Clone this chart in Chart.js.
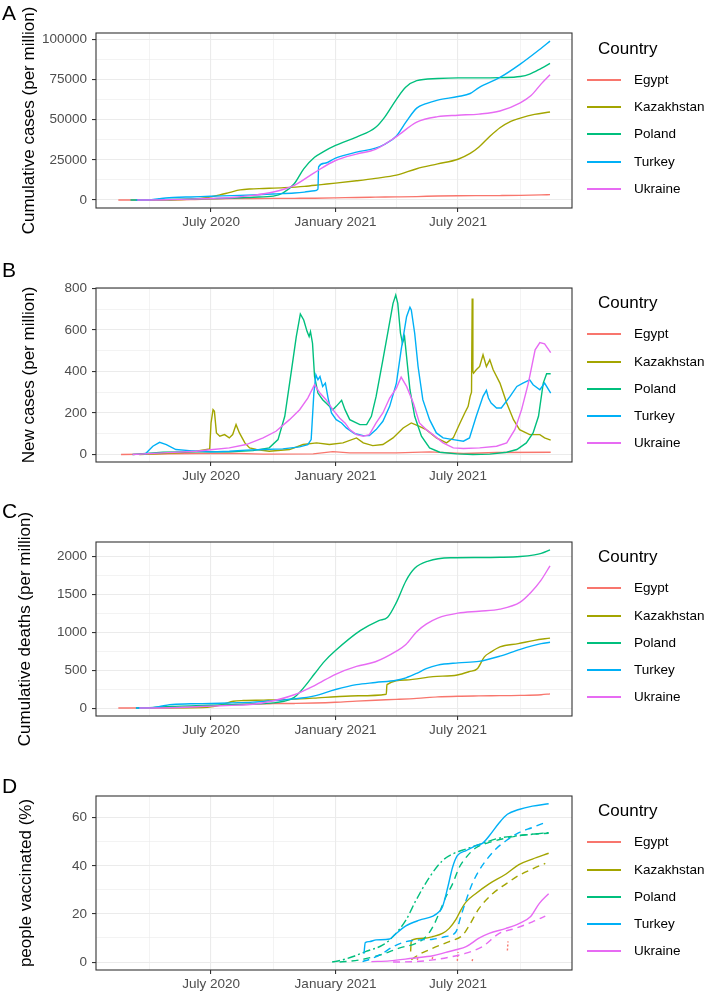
<!DOCTYPE html>
<html>
<head>
<meta charset="utf-8">
<script src="https://cdn.jsdelivr.net/npm/chart.js@4.4.1/dist/chart.umd.min.js"></script>
<style>
  html, body { margin: 0; padding: 0; background: #fff; overflow: hidden; }
  body { width: 708px; height: 993px; position: relative; font-family: "Liberation Sans", Arial, Helvetica, sans-serif; }
  .wrap { position: absolute; left: 0; width: 708px; }
  .tag { position: absolute; left: 2px; font-size: 21px; line-height: 21px; color: #000; }
  .leg-title { position: absolute; left: 598px; font-size: 17px; line-height: 20px; color: #000; }
  .leg-key { position: absolute; left: 587px; width: 34px; height: 2px; }
  .leg-text { position: absolute; left: 634px; font-size: 13.5px; line-height: 16px; color: #000; white-space: nowrap; }
</style>
</head>
<body>
<div class="wrap" id="wrapA"><canvas id="panelA"></canvas></div>
<div class="wrap" id="wrapB"><canvas id="panelB"></canvas></div>
<div class="wrap" id="wrapC"><canvas id="panelC"></canvas></div>
<div class="wrap" id="wrapD"><canvas id="panelD"></canvas></div>
<div class="tag" style="top:2px">A</div>
<div class="tag" style="top:259px">B</div>
<div class="tag" style="top:500px">C</div>
<div class="tag" style="top:775px">D</div>
<div id="legends"></div>

<script>
const countries = ["Egypt", "Kazakhstan", "Poland", "Turkey", "Ukraine"];

// x values are days counted from 1 January 2020
const xTickDays = [182, 366, 547];
const xTickLabels = ["July 2020", "January 2021", "July 2021"];
const xMinorDays = [91, 274, 456.5, 639];

const yTicksCases = [0, 25000, 50000, 75000, 100000];
const yTicksNew = [0, 200, 400, 600, 800];
const yTicksDeaths = [0, 500, 1000, 1500, 2000];
const yTicksVax = [0, 20, 40, 60];

// A: cumulative cases per million
const casesEgypt = [[45,0],[91,7],[121,55],[152,240],[182,660],[213,920],[244,970],[274,1010],[305,1060],[335,1130],[366,1350],[397,1630],[425,1790],[456,1950],[486,2150],[517,2500],[547,2660],[578,2730],[609,2780],[639,2900],[670,3200],[683,3400]];
const casesKazakhstan = [[72,0],[120,150],[152,600],[175,1400],[182,2000],[195,3200],[210,4800],[225,6300],[240,6900],[260,7200],[290,7700],[320,8500],[345,9600],[366,10500],[397,12000],[425,13500],[456,15500],[486,19500],[517,22500],[547,25400],[565,29000],[578,33000],[595,40000],[609,45000],[625,49000],[639,51000],[660,53300],[683,54800]];
const casesPoland = [[63,0],[91,65],[121,340],[152,630],[182,890],[213,1200],[244,1770],[274,2460],[288,4300],[305,10100],[319,19400],[335,26600],[349,30300],[366,34000],[397,39200],[425,45100],[439,51800],[456,62700],[470,70300],[486,74300],[517,75600],[547,76000],[578,76000],[609,76200],[639,76900],[653,78400],[670,82000],[683,85000]];
const casesTurkey = [[71,0],[90,160],[105,830],[120,1430],[135,1740],[152,1940],[182,2390],[213,2730],[244,3180],[274,3790],[305,4420],[320,4950],[335,5740],[340,6800],[341,20700],[350,22900],[366,26100],[397,29800],[425,32300],[440,35000],[456,39900],[470,48500],[486,57200],[500,60000],[517,62200],[547,64400],[565,66300],[578,70000],[609,76300],[639,84600],[670,94500],[683,98900]];
const casesUkraine = [[73,0],[91,19],[121,240],[152,560],[182,1050],[213,1620],[244,2880],[274,4980],[305,9200],[335,17100],[366,24600],[397,28600],[425,31500],[456,39500],[486,48500],[517,51900],[547,52800],[578,53500],[609,55400],[639,60500],[655,65000],[670,72300],[683,78000]];

// B: new cases per million
const newEgypt = [[49,0],[120,3],[160,5],[209,6],[259,2],[333,3],[362,14],[387,8],[456,8],[505,13],[555,5],[604,10],[684,11]];
const newKazakhstan = [[76,0],[135,8],[160,16],[180,27],[182,152],[185,216],[187,208],[190,104],[195,88],[202,96],[209,80],[214,96],[219,144],[224,104],[232,56],[239,32],[249,24],[268,16],[298,24],[318,48],[338,56],[357,48],[377,56],[397,80],[407,56],[421,43],[436,48],[451,80],[466,128],[478,152],[490,136],[500,120],[515,80],[530,56],[540,80],[550,152],[557,200],[562,232],[565,280],[567,300],[568,752],[569,400],[570,392],[574,408],[579,424],[584,480],[589,424],[594,456],[599,408],[609,344],[619,248],[629,168],[638,120],[653,96],[668,96],[675,80],[684,69]];
const newPoland = [[66,0],[111,11],[160,14],[209,13],[244,19],[268,32],[281,72],[291,184],[301,408],[308,568],[314,677],[319,648],[324,592],[327,568],[329,592],[332,536],[335,376],[340,296],[347,264],[357,232],[362,216],[367,232],[372,250],[375,261],[380,216],[387,168],[402,144],[412,144],[419,184],[426,280],[436,456],[444,600],[451,728],[455,768],[458,728],[462,584],[465,536],[468,568],[471,472],[476,312],[483,184],[493,88],[505,32],[520,11],[545,3],[569,0],[594,2],[619,11],[634,24],[648,56],[658,104],[666,184],[673,344],[678,389],[684,389]];
const newTurkey = [[84,0],[96,40],[106,59],[116,48],[130,24],[150,19],[182,13],[209,16],[234,21],[259,24],[288,27],[313,37],[325,48],[330,72],[334,296],[337,384],[340,360],[343,376],[347,328],[351,344],[355,272],[360,200],[367,168],[375,152],[382,128],[394,101],[407,91],[416,91],[426,120],[436,160],[446,232],[456,344],[463,504],[471,664],[476,709],[478,696],[483,584],[488,424],[495,264],[505,168],[515,104],[525,80],[540,72],[555,64],[564,80],[574,184],[584,280],[589,309],[592,272],[596,248],[604,224],[611,224],[624,280],[634,328],[643,344],[653,360],[658,336],[668,312],[675,344],[684,296]];
const newUkraine = [[66,0],[111,8],[160,16],[185,24],[209,32],[234,48],[259,80],[278,112],[298,168],[313,216],[325,272],[335,336],[343,296],[352,264],[362,216],[372,176],[380,152],[387,120],[397,96],[407,88],[416,96],[426,152],[436,200],[446,272],[456,320],[463,373],[471,328],[481,248],[490,152],[500,120],[510,96],[525,56],[540,32],[555,29],[579,32],[604,40],[619,56],[631,120],[641,216],[651,344],[661,504],[668,539],[675,533],[684,491]];

// C: cumulative deaths per million
const deathsEgypt = [[45,0],[91,2],[121,5],[152,10],[182,29],[213,46],[244,54],[274,58],[305,61],[335,66],[366,76],[397,92],[425,104],[456,115],[486,128],[517,148],[547,157],[578,161],[609,164],[639,167],[670,176],[683,188]];
const deathsKazakhstan = [[77,0],[150,2],[182,15],[200,50],[215,90],[230,100],[260,105],[300,115],[340,135],[366,150],[400,162],[441,182],[442,310],[470,371],[510,415],[546,437],[563,480],[576,524],[586,677],[596,742],[609,808],[636,852],[660,895],[683,925]];
const deathsPoland = [[71,0],[91,5],[121,22],[152,28],[182,38],[213,45],[244,54],[274,68],[290,90],[305,141],[320,280],[335,453],[350,620],[366,760],[403,1026],[430,1157],[443,1200],[456,1397],[470,1680],[483,1847],[503,1943],[536,1987],[578,1990],[609,1993],[639,2003],[660,2025],[670,2045],[683,2090]];
const deathsTurkey = [[71,0],[91,2],[105,18],[121,45],[152,56],[182,61],[213,69],[244,78],[274,98],[305,121],[335,161],[366,245],[397,309],[425,338],[456,368],[470,400],[486,459],[500,520],[517,567],[547,597],[578,617],[609,686],[639,776],[670,851],[683,870]];
const deathsUkraine = [[76,0],[121,5],[152,14],[182,26],[213,36],[244,50],[274,96],[305,176],[335,298],[366,446],[397,550],[425,612],[456,752],[470,840],[486,1010],[500,1110],[517,1190],[547,1255],[578,1280],[609,1307],[639,1400],[655,1530],[669,1680],[683,1880]];

// D: people vaccinated (%) - at least one dose, and fully vaccinated
const vaxEgypt = [[487,0.8],[488,2.6],[489,null],[509,1.2],[510,2.6],[511,null],[546,0.5],[547,4.2],[548,null],[568,0.4],[569,1.8],[570,null],[620,4.8],[621,8.6]];
const vaxKazakhstan = [[477,4.4],[478,9],[497,9.9],[510,10.6],[524,11.9],[534,14],[544,17.7],[551,21.5],[559,25],[573,28.4],[593,32.5],[618,36.6],[637,40.5],[657,42.8],[681,45.2]];
const fullKazakhstan = [[478,1],[490,3.2],[510,5.8],[534,8.5],[554,11.2],[564,15.4],[578,22.2],[598,28.4],[618,32.5],[637,36],[657,38.7],[676,41]];
const vaxPoland = [[361,0],[375,0.8],[392,2.3],[411,4.4],[436,7.1],[451,10.6],[470,17.4],[485,25.7],[505,35.3],[524,42.1],[539,44.9],[559,47],[583,49.3],[608,51.5],[632,52.4],[657,53.1],[681,53.8]];
const fullPoland = [[372,0],[402,0.9],[436,3.3],[460,5.8],[485,7.8],[500,10.6],[510,14.7],[519,20.2],[529,27],[539,32.5],[549,39.4],[559,43.5],[573,47.4],[593,49.7],[618,51.5],[647,52.9],[681,53.5]];
const vaxTurkey = [[408,3.5],[410,8.1],[416,8.5],[426,9.2],[446,9.6],[453,11.2],[470,15],[490,17.4],[510,19.1],[519,20.9],[524,22.9],[532,31.2],[539,39.4],[546,44.2],[559,46.3],[573,48.3],[583,49.3],[593,52.4],[608,57.9],[620,61.4],[637,63.4],[657,64.8],[681,65.8]];
const fullTurkey = [[406,0.2],[421,1.6],[436,3.7],[451,6.4],[470,8.5],[490,9.2],[510,9.5],[529,10.6],[544,12.6],[551,18.8],[559,25.7],[568,32.5],[578,38],[588,42.1],[603,47],[618,50.4],[637,53.8],[657,55.9],[676,58]];
const vaxUkraine = [[419,0.2],[446,0.5],[480,1.6],[510,2.6],[529,4],[544,5.1],[559,6.4],[578,9.9],[593,11.9],[618,14],[637,16],[654,18.8],[667,24.3],[681,28.4]];
const fullUkraine = [[451,0],[485,0.2],[510,0.9],[539,2.3],[559,3.7],[583,6.4],[608,11.9],[632,14],[657,16.7],[676,19.1]];

const colors = ["#F8766D", "#A3A500", "#00BF7D", "#00B0F6", "#E76BF3"];
Chart.defaults.font.family = '"Liberation Sans", Arial, Helvetica, sans-serif';

const toPoints = (pairs) => pairs.map(([x, y]) => ({ x: x, y: y }));

const line = (label, pairs, i, extra) => Object.assign({
  label: label,
  data: toPoints(pairs),
  borderColor: colors[i],
  backgroundColor: colors[i],
  borderWidth: 1.4,
  pointRadius: 0,
  fill: false,
  order: countries.length - i,
}, extra || {});

const smooth = { cubicInterpolationMode: "monotone" };
const dashed = [7, 5];

const panels = [
  {
    id: "A", yTitle: "Cumulative cases (per million)", yTicks: yTicksCases, yMin: -4950, yMax: 103950,
    datasets: [casesEgypt, casesKazakhstan, casesPoland, casesTurkey, casesUkraine].map((s, i) => line(countries[i], s, i, smooth)),
  },
  {
    id: "B", yTitle: "New cases (per million)", yTicks: yTicksNew, yMin: -36, yMax: 802,
    datasets: [newEgypt, newKazakhstan, newPoland, newTurkey, newUkraine].map((s, i) => line(countries[i], s, i)),
  },
  {
    id: "C", yTitle: "Cumulative deaths (per million)", yTicks: yTicksDeaths, yMin: -105, yMax: 2195,
    datasets: [deathsEgypt, deathsKazakhstan, deathsPoland, deathsTurkey, deathsUkraine].map((s, i) => line(countries[i], s, i, smooth)),
  },
  {
    id: "D", yTitle: "people vaccinated (%)", yTicks: yTicksVax, yMin: -3.3, yMax: 69,
    datasets: [
      line("Egypt", vaxEgypt, 0, { borderDash: [2, 2] }),
      line("Kazakhstan", vaxKazakhstan, 1, smooth),
      line("Kazakhstan fully", fullKazakhstan, 1, Object.assign({ borderDash: dashed }, smooth)),
      line("Poland", vaxPoland, 2, Object.assign({ borderDash: [8, 3, 2, 3] }, smooth)),
      line("Poland fully", fullPoland, 2, Object.assign({ borderDash: dashed }, smooth)),
      line("Turkey", vaxTurkey, 3, smooth),
      line("Turkey fully", fullTurkey, 3, Object.assign({ borderDash: dashed }, smooth)),
      line("Ukraine", vaxUkraine, 4, smooth),
      line("Ukraine fully", fullUkraine, 4, Object.assign({ borderDash: dashed }, smooth)),
    ],
  },
];

// where each panel sits on the page
const boxes = {
  A: { top: 0, padTop: 33, plotH: 175, titleMid: 29 },
  B: { top: 240, padTop: 48, plotH: 174, titleMid: 29 },
  C: { top: 490, padTop: 52, plotH: 174, titleMid: 25.5 },
  D: { top: 750, padTop: 46, plotH: 174, titleMid: 26.5 },
};

const panelBorder = {
  id: "panelBorder",
  afterDatasetsDraw(chart) {
    const { ctx, chartArea: a } = chart;
    ctx.save();
    ctx.strokeStyle = "#333333";
    ctx.lineWidth = 1.1;
    ctx.strokeRect(a.left, a.top, a.right - a.left, a.bottom - a.top);
    ctx.restore();
  },
};

const xGrid = [...xTickDays, ...xMinorDays].sort((a, b) => a - b);

panels.forEach((p) => {
  const box = boxes[p.id];
  const wrap = document.getElementById("wrap" + p.id);
  const canvas = document.getElementById("panel" + p.id);
  const h = box.padTop + box.plotH + 32;
  wrap.style.top = box.top + "px";
  canvas.width = 708;
  canvas.height = h;
  canvas.style.width = "708px";
  canvas.style.height = h + "px";

  const yMinor = [];
  for (let i = 0; i < p.yTicks.length - 1; i++) yMinor.push((p.yTicks[i] + p.yTicks[i + 1]) / 2);
  const yGrid = [...p.yTicks, ...yMinor].filter((v) => v >= p.yMin && v <= p.yMax).sort((a, b) => a - b);
  const majorX = (c) => c.tick && xTickDays.includes(c.tick.value);
  const majorY = (c) => c.tick && p.yTicks.includes(c.tick.value);

  new Chart(canvas, {
    type: "line",
    data: { datasets: p.datasets },
    plugins: [panelBorder],
    options: {
      responsive: false,
      animation: false,
      devicePixelRatio: 1,
      layout: { padding: { left: 0, right: 136, top: box.padTop, bottom: 2 } },
      plugins: { legend: { display: false }, tooltip: { enabled: false } },
      scales: {
        x: {
          type: "linear",
          min: 12,
          max: 715.5,
          afterBuildTicks: (s) => { s.ticks = xGrid.map((v) => ({ value: v })); },
          afterFit: (s) => { s.height = 30; },
          border: { display: false },
          grid: {
            color: "#EBEBEB",
            lineWidth: (c) => (majorX(c) ? 1.1 : 0.6),
            drawTicks: true,
            tickLength: 4,
            tickWidth: 1.1,
            tickColor: (c) => (majorX(c) ? "#333333" : "rgba(0,0,0,0)"),
          },
          ticks: {
            autoSkip: false,
            maxRotation: 0,
            padding: 2,
            color: "#4D4D4D",
            font: { size: 13.5 },
            callback: (v) => {
              const k = xTickDays.indexOf(v);
              return k >= 0 ? xTickLabels[k] : "";
            },
          },
        },
        y: {
          type: "linear",
          min: p.yMin,
          max: p.yMax,
          afterBuildTicks: (s) => { s.ticks = yGrid.map((v) => ({ value: v })); },
          afterFit: (s) => { s.width = 96; },
          border: { display: false },
          grid: {
            color: "#EBEBEB",
            lineWidth: (c) => (majorY(c) ? 1.1 : 0.6),
            drawTicks: true,
            tickLength: 4,
            tickWidth: 1.1,
            tickColor: (c) => (majorY(c) ? "#333333" : "rgba(0,0,0,0)"),
          },
          ticks: {
            autoSkip: false,
            padding: 5,
            color: "#4D4D4D",
            font: { size: 13.5 },
            callback: (v) => (p.yTicks.includes(v) ? String(v) : ""),
          },
          title: {
            display: true,
            text: p.yTitle,
            color: "#000",
            font: { size: 17 },
            padding: { top: box.titleMid - 10.2, bottom: 0 },
          },
        },
      },
    },
  });

  // legend, built from the country list
  const legends = document.getElementById("legends");
  const mid = box.top + box.padTop + box.plotH / 2;
  const title = document.createElement("div");
  title.className = "leg-title";
  title.textContent = "Country";
  title.style.top = Math.round(mid - 72 - 10) + "px";
  legends.appendChild(title);
  countries.forEach((name, i) => {
    const cy = mid - 40.8 + i * 27.3;
    const key = document.createElement("div");
    key.className = "leg-key";
    key.style.top = Math.round(cy - 1) + "px";
    key.style.background = colors[i];
    legends.appendChild(key);
    const txt = document.createElement("div");
    txt.className = "leg-text";
    txt.textContent = name;
    txt.style.top = Math.round(cy - 8) + "px";
    legends.appendChild(txt);
  });
});
</script>
</body>
</html>
